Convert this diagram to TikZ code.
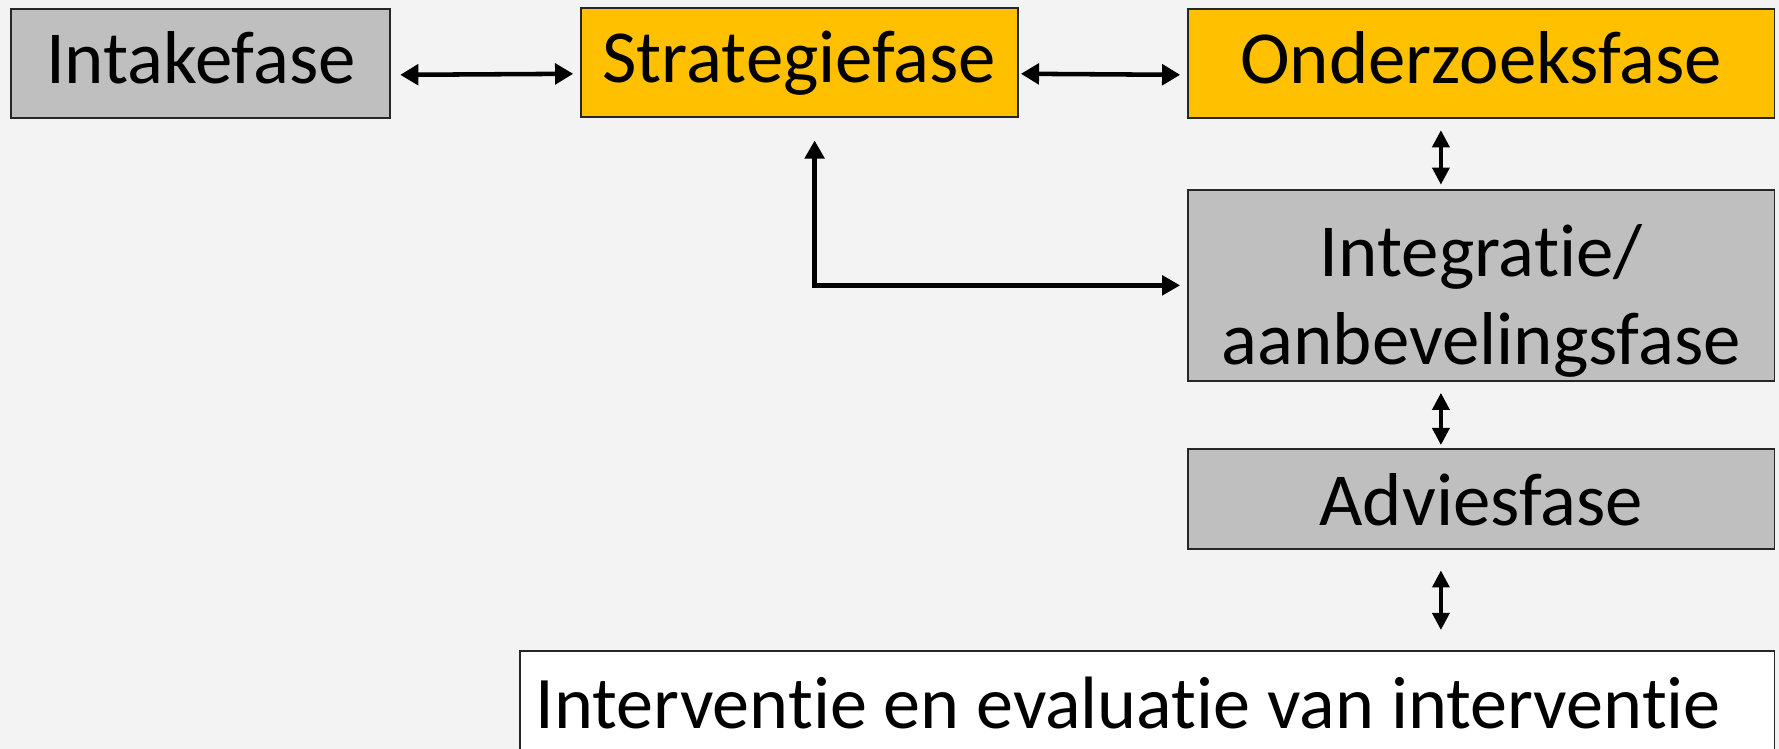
\documentclass[tikz,border=0pt]{standalone}
\usepackage{fontspec}
\setmainfont{Carlito}[Ligatures=NoCommon]
\usetikzlibrary{arrows.meta, calc}
\definecolor{bgcol}{HTML}{F3F3F3}
\definecolor{fasegrey}{HTML}{BFBFBF}
\definecolor{faseyellow}{HTML}{FFC000}
\tikzset{
  fase/.style={
    rectangle, draw=black!85, line width=0.8pt,
    align=center, inner sep=0pt,
    text height=22pt, text depth=4pt,
    font=\fontsize{33}{39}\selectfont
  },
  grey/.style   = {fase, fill=fasegrey},
  yellow/.style = {fase, fill=faseyellow},
  arr/.style    = {{Triangle[length=8pt,width=9pt]}-{Triangle[length=8pt,width=9pt]}, line width=2pt},
  varr/.style   = {{Triangle[length=7.5pt,width=7.5pt]}-{Triangle[length=7.5pt,width=7.5pt]}, line width=1.6pt},
  barr/.style   = {{Triangle[length=8pt,width=8.5pt]}-{Triangle[length=8pt,width=8.5pt]}, line width=2.4pt},
}

\begin{document}
\begin{tikzpicture}[x=0.5pt, y=-0.5pt]

%% ── Background / frame ──────────────────────────────────────────────────────
\fill[bgcol] (0,0) rectangle (1568,660);
\useasboundingbox (0,0) rectangle (1568,660);
\clip (0,0) rectangle (1568,660);

%% ── Phases ──────────────────────────────────────────────────────────────────
\node[grey,   minimum width=167pt,   minimum height=48pt]   (intake)     at (177,   56)    {Intakefase};
\node[yellow, minimum width=192.5pt, minimum height=48pt]   (strategie)  at (704.5, 55)    {Strategiefase};
\node[yellow, minimum width=258.5pt, minimum height=48pt]   (onderzoek)  at (1305.5, 56)   {Onderzoeksfase};
\node[grey,   minimum width=258.5pt, minimum height=79.5pt,
      text height=77pt, text depth=7pt]                       (integratie) at (1305.5, 251.5) {Integratie/\\aanbevelingsfase};
\node[grey,   minimum width=258.5pt, minimum height=44pt,
      text height=27.5pt]                                     (advies)     at (1305.5, 440)  {Adviesfase};
\node[fase, fill=white, minimum width=553pt, minimum height=46pt,
      text height=26pt, font=\fontsize{32.7}{39}\selectfont] (interventie) at (1011, 620)
  {\makebox[539pt][l]{Interventie en evaluatie van interventie}};

%% ── Helper columns for the arrows ───────────────────────────────────────────
\coordinate (vline) at (1270, 0);
\coordinate (bend)  at (718, 0);

%% ── Horizontal arrows (top row, a bit below the box centres) ───────────────
\draw[arr, shorten <=4pt, shorten >=3pt] ([yshift=-5pt]intake.east) -- ([yshift=-5pt]strategie.west);
\draw[arr, shorten <=1pt, shorten >=3pt] ([yshift=-5pt]strategie.east) -- ([yshift=-5pt]onderzoek.west);

%% ── Vertical arrows (right column) ──────────────────────────────────────────
\draw[varr, shorten <=5pt, shorten >=2pt]   (onderzoek.south -| vline)  -- (integratie.north -| vline);
\draw[varr, shorten <=5pt, shorten >=1.5pt] (integratie.south -| vline) -- (advies.north -| vline);
\draw[varr, shorten <=9pt, shorten >=9pt]   (advies.south -| vline)     -- (interventie.north -| vline);

%% ── Return path: strategie <-> integratie ───────────────────────────────────
\draw[barr, shorten <=10pt, shorten >=3pt] (strategie.south -| bend) |- (integratie.west);

\end{tikzpicture}
\end{document}
